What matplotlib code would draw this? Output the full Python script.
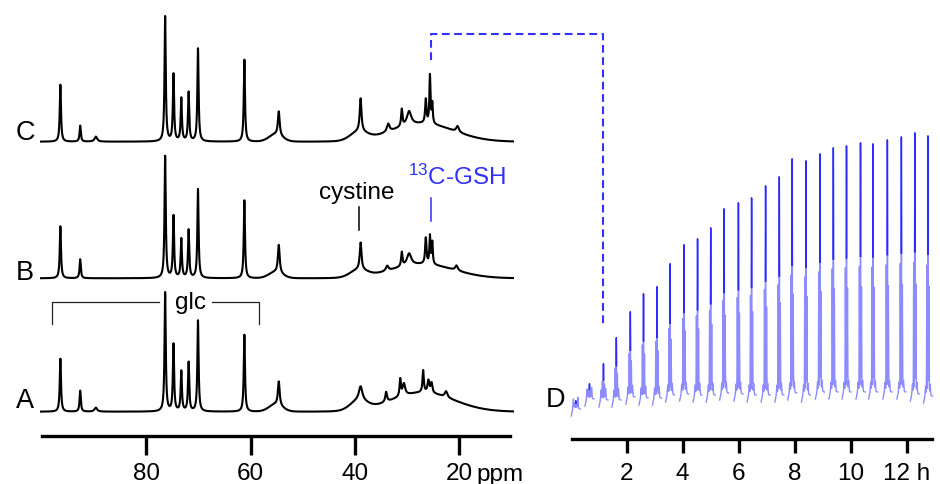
import numpy as np
import matplotlib
matplotlib.use("Agg")
import matplotlib.pyplot as plt
from matplotlib.lines import Line2D

plt.rcParams['font.family'] = ['Liberation Sans', 'DejaVu Sans']
plt.rcParams['mathtext.fontset'] = 'custom'
plt.rcParams['mathtext.rm'] = 'Liberation Sans'
plt.rcParams['mathtext.it'] = 'Liberation Sans:italic'

# ---------------------------------------------------------------- data
ppm_ticks = [80, 60, 40, 20]
ppm_tick_labels = ['80', '60', '40', '20']
hour_ticks = [2, 4, 6, 8, 10, 12]
hour_tick_labels = ['2', '4', '6', '8', '10', '12 h']

# sharp carbohydrate / metabolite resonances (ppm) and their heights
sharp_ppm = [96.5, 92.7, 76.4, 74.8, 73.3, 71.9, 70.1, 61.2, 54.6]
sharp_A = [53, 21, 119, 67, 40, 49, 91, 77, 24]
sharp_B = [52, 19, 122, 62, 39, 48, 89, 78, 28]
sharp_C = [57, 16, 125, 67, 43, 49, 93, 82, 24]

# aliphatic resonances: position, height, half width
aliph_ppm_A = [38.9, 34.0, 31.3, 30.6, 26.9, 25.9, 25.3, 22.5, 89.7]
aliph_h_A = [14, 10, 17, 12, 22, 12, 10, 6, 4]
aliph_w_A = [0.4, 0.2, 0.15, 0.3, 0.15, 0.2, 0.2, 0.3, 0.3]

aliph_ppm_B = [38.9, 33.8, 31.0, 29.6, 26.4, 25.6, 25.15, 20.5]
aliph_h_B = [27, 5, 14, 12, 26, 28, 22, 5]
aliph_w_B = [0.2, 0.3, 0.15, 0.5, 0.15, 0.12, 0.12, 0.3]

aliph_ppm_C = [38.9, 33.6, 31.0, 29.6, 26.4, 25.6, 25.15, 20.3, 89.7]
aliph_h_C = [33, 8, 17, 14, 24, 48, 20, 6, 5]
aliph_w_C = [0.2, 0.3, 0.15, 0.5, 0.15, 0.12, 0.12, 0.3, 0.3]

# broad background components: centre, height, width
broad_ppm = [27.0, 39.3, 55.2]
broad_A = [19, 9, 7]
broad_B = [14, 7, 6]
broad_C = [18, 8, 7]
broad_w = [6.0, 1.6, 1.3]

gsh_ppm = 25.45
cystine_ppm = 39.3

# time course of the 13C-GSH signal
scan_time = [0.18, 0.67, 1.17, 1.63, 2.13, 2.60, 3.08, 3.55, 4.05, 4.53,
             5.00, 5.48, 5.99, 6.46, 6.96, 7.45, 7.91, 8.40, 8.90, 9.38,
             9.85, 10.35, 10.80, 11.31, 11.81, 12.29, 12.76]
scan_top = [39, 56, 76, 102, 128, 146, 153, 176, 195, 201, 212, 231, 237,
            242, 254, 263, 281, 279, 286, 292, 294, 297, 296, 300, 303,
            307, 304]
scan_base = [32, 42, 41, 41, 44, 43, 43, 46, 47, 46, 46, 48, 47, 46, 46,
             46, 48, 46, 49, 49, 49, 49, 49, 49, 49, 47, 45]

# ---------------------------------------------------------------- helpers
W, H = 940, 484
DPI = 100
BLUE = '#3030ff'


def lorentz(x, c, h, w):
    return h / (1.0 + ((x - c) / w) ** 2)


def gauss(x, c, h, s):
    return h * np.exp(-0.5 * ((x - c) / s) ** 2)


def spectrum(x, sharp_h, a_ppm, a_h, a_w, broad_h):
    y = np.zeros_like(x)
    for c, h in zip(sharp_ppm, sharp_h):
        y += lorentz(x, c, h, 0.2 if c < 56 else 0.14)
    for c, h, w in zip(a_ppm, a_h, a_w):
        y += lorentz(x, c, h, w)
    for c, h, w in zip(broad_ppm, broad_h, broad_w):
        y += gauss(x, c, h, w)
    return y


def fx(px):
    return px / W


def fy(py):
    return 1 - py / H


fig = plt.figure(figsize=(W / DPI, H / DPI), dpi=DPI)

# ---------------------------------------------------------------- panel A-C
ax = fig.add_axes([fx(40), 48.3 / H, 474 / W, 435.7 / H])
ax.set_xlim(100.41, 9.47)
ax.set_ylim(0, 435.7)
for s in ['top', 'left', 'right']:
    ax.spines[s].set_visible(False)
ax.spines['bottom'].set_bounds(10.2, 100.0)
ax.spines['bottom'].set_linewidth(2.4)
ax.set_yticks([])
ax.set_xticks(ppm_ticks)
ax.set_xticklabels(ppm_tick_labels)
ax.tick_params(axis='x', length=14, width=2.4, direction='out',
               labelsize=17.5, pad=6)
ax.patch.set_visible(False)

ppm = np.linspace(100.41, 9.47, 7000)
traces = [
    (24.0, sharp_A, aliph_ppm_A, aliph_h_A, aliph_w_A, broad_A),
    (157.4, sharp_B, aliph_ppm_B, aliph_h_B, aliph_w_B, broad_B),
    (294.0, sharp_C, aliph_ppm_C, aliph_h_C, aliph_w_C, broad_C),
]
for off, sh, ap, ah, aw, bh in traces:
    ax.plot(ppm, off + spectrum(ppm, sh, ap, ah, aw, bh), color='black',
            lw=1.5, solid_joinstyle='round')

# glc bracket
yb, yb_end = 134.0, 111.7
ax.plot([98.05, 98.05, 77.5], [yb_end, yb, yb], color='#222222', lw=0.9)
ax.plot([67.4, 58.3, 58.3], [yb, yb, yb_end], color='#222222', lw=0.9)
# peak markers
ax.plot([cystine_ppm, cystine_ppm], [205.7, 229.0], color='black', lw=1.1)
ax.plot([gsh_ppm, gsh_ppm], [215.0, 237.4], color=BLUE, lw=1.1)

# ---------------------------------------------------------------- panel D
axd = fig.add_axes([fx(570.7), 45 / H, 364 / W, 439 / H])
axd.set_xlim(0, 13)
axd.set_ylim(0, 439)
for s in ['top', 'left', 'right']:
    axd.spines[s].set_visible(False)
axd.spines['bottom'].set_bounds(0.06, 12.89)
axd.spines['bottom'].set_linewidth(2.4)
axd.set_yticks([])
axd.set_xticks(hour_ticks)
axd.set_xticklabels(hour_tick_labels)
axd.tick_params(axis='x', length=10, width=2.4, direction='out',
                labelsize=17.5, pad=7)
axd.patch.set_visible(False)

# each scan: GSH multiplet (centre line plus two flanking lines) on a
# short baseline segment with two small satellite bumps
dx = np.linspace(-0.16, 0.16, 600)
ramp = np.interp(dx, [-0.16, -0.09, 0.16], [-9, 0, -2])
side = gauss(dx, -0.085, 8, 0.012) + gauss(dx, 0.075, 11, 0.012)
for t, top, base in zip(scan_time, scan_top, scan_base):
    h = top - base
    peaks = (gauss(dx, 0.0, h, 0.007) + gauss(dx, -0.04, 0.5 * h, 0.007)
             + gauss(dx, 0.035, 0.42 * h, 0.007))
    y = base + ramp + side + peaks
    axd.plot(t + dx, y, color='#8c8cff', lw=1.0, clip_on=False)
    upper = np.where((y - base > 0.5 * h) & (np.abs(dx) < 0.015), y, np.nan)
    axd.plot(t + dx, upper, color='#2b2bff', lw=1.0, clip_on=False)

# ---------------------------------------------------------------- connector
to_fig = fig.transFigure.inverted()
x_left = to_fig.transform(ax.transData.transform((gsh_ppm, 0)))[0]
x_right = to_fig.transform(axd.transData.transform((scan_time[2], 0)))[0]
fig.add_artist(Line2D([x_left, x_left, x_right, x_right],
                      [fy(60), fy(34), fy(34), fy(327)],
                      color=BLUE, lw=1.5, dashes=(3.7, 2.2)))

# ---------------------------------------------------------------- labels
for lab, x, y in [('C', 25, 139.5), ('B', 25, 280), ('A', 25, 407.7),
                  ('D', 556, 406.7)]:
    fig.text(fx(x), fy(y), lab, fontsize=19.5, ha='center', va='baseline')

fig.text(fx(356.7), fy(199.3), 'cystine', fontsize=17.5, ha='center',
         va='baseline')
fig.text(fx(408.3), fy(185), r'$^{\mathrm{13}}$C-GSH', fontsize=17.5,
         ha='left', va='baseline', color=BLUE)
fig.text(fx(190.8), fy(309), 'glc', fontsize=17.5, ha='center',
         va='baseline')
fig.text(fx(476.7), fy(480.5), 'ppm', fontsize=17.5, ha='left',
         va='baseline')

fig.savefig('out.png', dpi=DPI)
